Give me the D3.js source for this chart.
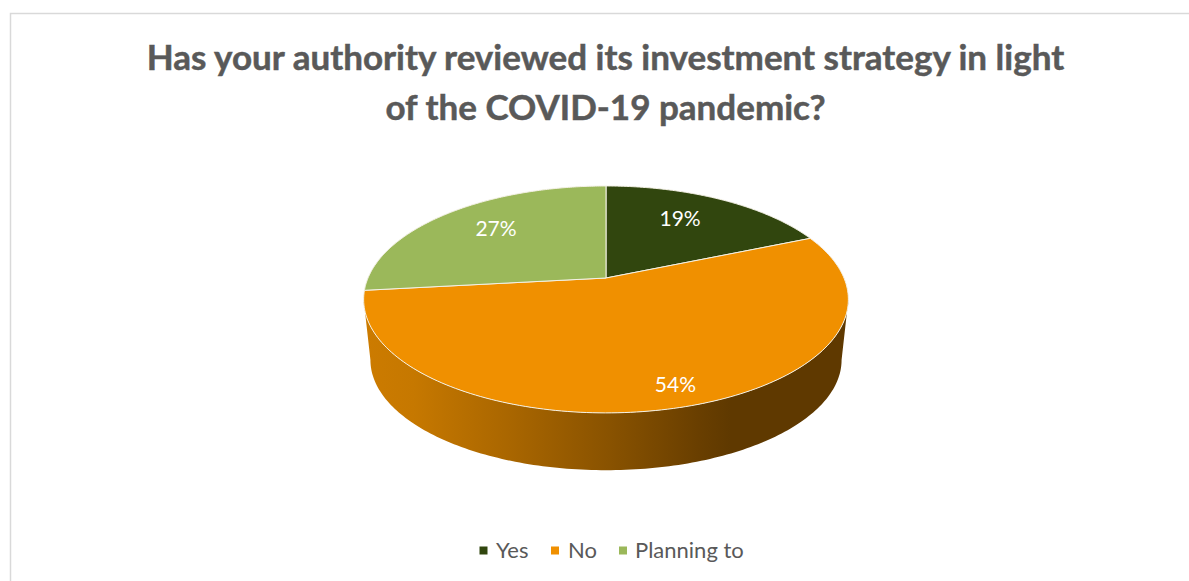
<!DOCTYPE html>
<html><head><meta charset="utf-8">
<script src="https://cdnjs.cloudflare.com/ajax/libs/d3/7.8.5/d3.min.js"></script>
<style>html,body{margin:0;padding:0;background:#fff;overflow:hidden}svg{display:block}text{font-family:Lato,"Open Sans",sans-serif}</style>
</head><body><svg id="c" width="1189" height="581"></svg>
<script>
const titleLines = ["Has your authority reviewed its investment strategy in light", "of the COVID-19 pandemic?"];
const categories = ["Yes", "No", "Planning to"];
const values = [18.6, 54.49, 26.7];
const colours = ["#31460E", "#F09000", "#9BB85A"];

const W = 1189, H = 581;
const svg = d3.select("#c");
const colour = d3.scaleOrdinal(categories, colours);

// frame
svg.append("path").attr("d", d3.line()([[10.5, H], [10.5, 13.5], [W, 13.5]]))
  .attr("fill", "none").attr("stroke", "#D9D9D9").attr("stroke-width", 1.5);

// title
svg.append("g").selectAll("text").data(titleLines).join("text")
  .attr("x", 605.5).attr("y", (d, i) => 70 + i * 50)
  .attr("text-anchor", "middle").attr("font-size", 35).attr("font-weight", 700)
  .attr("fill", "#595959").attr("stroke", "#595959").attr("stroke-width", 0.5).text(d => d);

// perspective projection of the pie disc
const cx = 606, apexY = 278, k = -0.189, rX = 238, rY = 109.4;
const project = (theta, r = 1) => {
  const u = r * Math.sin(theta), v = -r * Math.cos(theta), w = 1 + k * v;
  return [cx + rX * u / w, apexY + rY * v / w];
};
// bottom face: same disc slightly smaller and lower
const midY = 299.5, shrink = 0.972, drop = 60.5;
const projectLow = theta => {
  const [x, y] = project(theta);
  return [cx + shrink * (x - cx), midY + shrink * (y - midY) + drop];
};
const samples = (a0, a1, n = 160) => d3.range(n + 1).map(i => a0 + (a1 - a0) * i / n);
const line = d3.line();

const pie = d3.pie().sort(null).value(d => d)(values);

// side wall
const defs = svg.append("defs");
const grad = defs.append("linearGradient").attr("id", "side")
  .attr("gradientUnits", "userSpaceOnUse")
  .attr("x1", 366).attr("x2", 846).attr("y1", 0).attr("y2", 0);
[[0, "#CC7B00"], [0.1, "#C67800"], [0.3, "#A96600"], [0.5, "#8A5300"], [0.7, "#683E00"], [0.76, "#5F3900"], [1, "#5F3900"]]
  .forEach(s => grad.append("stop").attr("offset", s[0]).attr("stop-color", s[1]));
const edgeA = Math.acos(k), edgeB = 2 * Math.PI - edgeA;
const wallPts = samples(edgeA, edgeB).map(t => project(t))
  .concat(samples(edgeB, edgeA).map(projectLow));
svg.append("path").attr("d", line(wallPts) + "Z").attr("fill", "url(#side)");

// top slices
svg.append("g").selectAll("path").data(pie).join("path")
  .attr("d", d => line([[cx, apexY]].concat(samples(d.startAngle, d.endAngle).map(t => project(t)))) + "Z")
  .attr("fill", (d, i) => colour(categories[i]))
  .attr("stroke", "#F4F1E6").attr("stroke-width", 1).attr("stroke-linejoin", "round");

// value labels
const labelRadius = [0.72, 0.85, 0.74], labelShift = [-11, 9, 10];
svg.append("g").selectAll("text").data(pie).join("text")
  .attr("x", (d, i) => project((d.startAngle + d.endAngle) / 2, labelRadius[i])[0] + labelShift[i])
  .attr("y", (d, i) => project((d.startAngle + d.endAngle) / 2, labelRadius[i])[1] + 7)
  .attr("text-anchor", "middle").attr("font-size", 21).attr("fill", "#fff")
  .text(d => Math.round(d.value) + "%");

// legend
const legendSwatchX = [479.5, 551, 619], legendTextX = [496, 568, 635];
const legend = svg.append("g").selectAll("g").data(categories).join("g");
legend.append("rect").attr("x", (d, i) => legendSwatchX[i]).attr("y", 546.5)
  .attr("width", 8).attr("height", 8).attr("fill", d => colour(d));
legend.append("text").attr("x", (d, i) => legendTextX[i]).attr("y", 558)
  .attr("font-size", 22).attr("fill", "#595959").text(d => d);
</script></body></html>
